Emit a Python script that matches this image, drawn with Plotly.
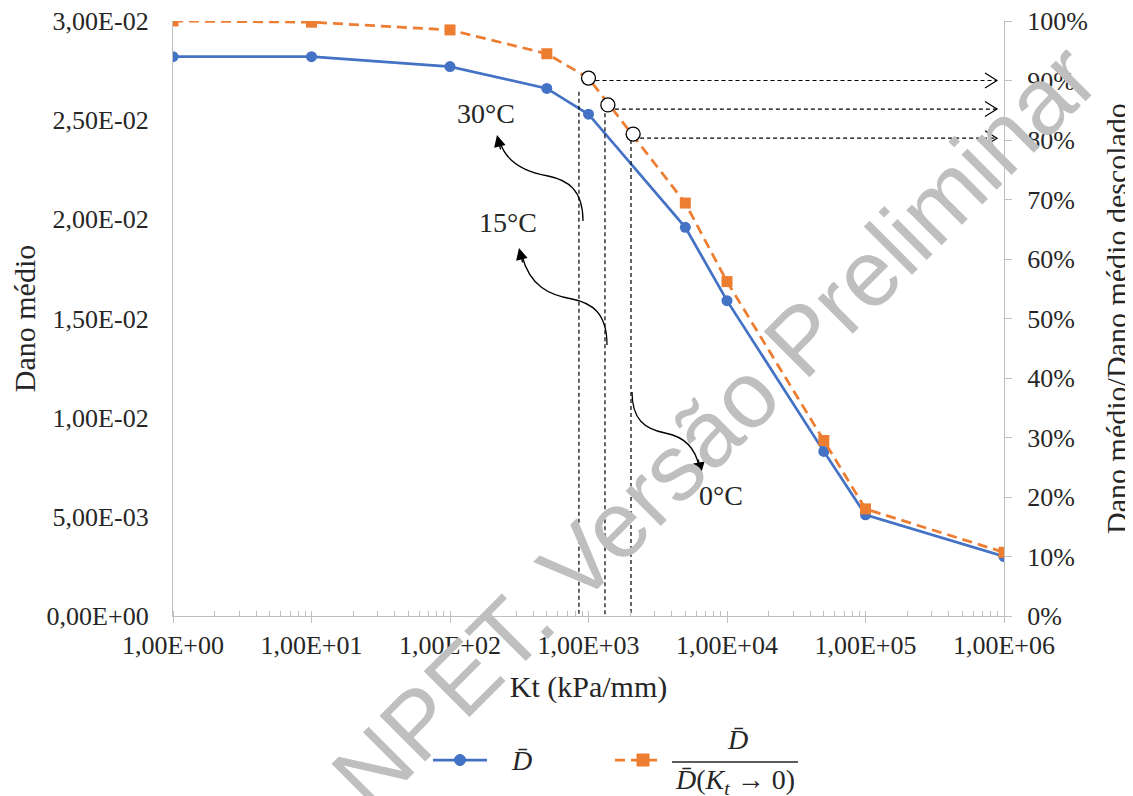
import plotly.graph_objects as go

# ---------------- data ----------------
kt = [1, 10, 100, 500, 1000, 5000, 10000, 50000, 100000, 1000000]
dano_medio = [0.0282, 0.0282, 0.0277, 0.0266, 0.0253, 0.0196, 0.0159, 0.0083, 0.0051, 0.0030]
dano_rel = [1.000, 0.998, 0.985, 0.945, 0.904, 0.694, 0.562, 0.295, 0.180, 0.107]

x_tickvals = [1, 10, 100, 1000, 10000, 100000, 1000000]
x_ticktext = ["1,00E+00", "1,00E+01", "1,00E+02", "1,00E+03", "1,00E+04", "1,00E+05", "1,00E+06"]
y_tickvals = [0, 0.005, 0.01, 0.015, 0.02, 0.025, 0.03]
y_ticktext = ["0,00E+00", "5,00E-03", "1,00E-02", "1,50E-02", "2,00E-02", "2,50E-02", "3,00E-02"]
y2_tickvals = [0, 0.1, 0.2, 0.3, 0.4, 0.5, 0.6, 0.7, 0.8, 0.9, 1.0]
y2_ticktext = ["0%", "10%", "20%", "30%", "40%", "50%", "60%", "70%", "80%", "90%", "100%"]

# temperature reading points (30, 15, 0 °C)
temp_labels = ["30°C", "15°C", "0°C"]
temp_kt = [1000, 1380, 2100]
temp_rel = [0.904, 0.859, 0.810]
arrow_rel = [0.900, 0.852, 0.803]
arrow_end_kt = 890000
vline_kt = [853, 1315, 2027]
vline_top = [0.881, 0.845, 0.800]

# ---------------- geometry (page pixels; the page body adds an 8px margin) ----------------
OFF = 8
L, R, T, B = 173, 1004, 21, 616
W, H = 1133 - OFF, 796 - OFF


def px(x):
    return (x - L) / (R - L)


def py(y):
    return (B - y) / (B - T)


SERIF = "Liberation Serif"
TXT = "#262626"
AX = "#bfbfbf"

fig = go.Figure()

# helper dashed lines (vertical) on right axis
for xk, yt in zip(vline_kt, vline_top):
    fig.add_trace(go.Scatter(x=[xk, xk], y=[yt, 0], yaxis="y2", mode="lines",
                             line=dict(color="black", width=1.2, dash="4px,3px"),
                             showlegend=False, hoverinfo="skip"))

# horizontal dashed arrows to the right axis
f = 10 ** (12 / ((R - L) / 6))
dy = 7.5 / (B - T)
for xk, ya in zip(temp_kt, arrow_rel):
    fig.add_trace(go.Scatter(x=[xk, arrow_end_kt], y=[ya, ya], yaxis="y2", mode="lines",
                             line=dict(color="black", width=1.2, dash="4px,3px"),
                             showlegend=False, hoverinfo="skip"))
    fig.add_trace(go.Scatter(x=[arrow_end_kt / f, arrow_end_kt, arrow_end_kt / f],
                             y=[ya + dy, ya, ya - dy], yaxis="y2", mode="lines",
                             line=dict(color="black", width=1.2),
                             showlegend=False, hoverinfo="skip"))

# main series
fig.add_trace(go.Scatter(x=kt, y=dano_medio, mode="lines+markers", name="D",
                         line=dict(color="#4472C4", width=2.75),
                         marker=dict(symbol="circle", size=11, color="#4472C4"),
                         showlegend=False))
fig.add_trace(go.Scatter(x=kt, y=dano_rel, yaxis="y2", mode="lines+markers", name="D/D0",
                         line=dict(color="#ED7D31", width=2.75, dash="10px,6px"),
                         marker=dict(symbol="square", size=11, color="#ED7D31"),
                         showlegend=False))

# open circles
fig.add_trace(go.Scatter(x=temp_kt, y=temp_rel, yaxis="y2", mode="markers",
                         marker=dict(symbol="circle", size=14, color="white",
                                     line=dict(color="black", width=1.3)),
                         showlegend=False, hoverinfo="skip"))

shapes = []
annotations = []


def ann(x, y, text, size, **kw):
    d = dict(x=px(x), y=py(y), xref="paper", yref="paper", text=text, showarrow=False,
             xanchor="center", yanchor="middle",
             font=dict(family=kw.pop("family", SERIF), size=size, color=kw.pop("color", TXT)))
    d.update(kw)
    annotations.append(d)


# curved arrows (pixel paths)
curves = [
    [(583, 221), (583, 190), (568, 180), (548, 176), (526, 172), (506, 162), (500, 142)],
    [(607, 345), (607, 313), (592, 303), (572, 299), (549, 295), (530, 286), (522, 256)],
    [(632, 392), (632, 420), (645, 429), (665, 433), (686, 437), (696, 450), (699, 467)],
]
tips = [((497, 135), (4, 16)), ((519, 248), (4, 16)), ((701, 474), (-3, -16))]
for p in curves:
    path = "M {:.5f},{:.5f} C {:.5f},{:.5f} {:.5f},{:.5f} {:.5f},{:.5f} C {:.5f},{:.5f} {:.5f},{:.5f} {:.5f},{:.5f}".format(
        px(p[0][0]), py(p[0][1]), px(p[1][0]), py(p[1][1]), px(p[2][0]), py(p[2][1]),
        px(p[3][0]), py(p[3][1]), px(p[4][0]), py(p[4][1]), px(p[5][0]), py(p[5][1]),
        px(p[6][0]), py(p[6][1]))
    shapes.append(dict(type="path", xref="paper", yref="paper", path=path,
                       line=dict(color="black", width=1.3)))
for (tx, ty), (ox, oy) in tips:
    annotations.append(dict(x=px(tx), y=py(ty), xref="paper", yref="paper", text="",
                            showarrow=True, arrowhead=2, arrowsize=1.8, arrowwidth=1.3,
                            arrowcolor="black", ax=ox, ay=oy))

# temperature labels
for lab, (lx, ly) in zip(temp_labels, [(486, 113), (508, 222), (721, 495)]):
    ann(lx, ly, lab, 28)

# ---------------- manual legend ----------------
shapes.append(dict(type="line", xref="paper", yref="paper", x0=px(433), x1=px(487),
                   y0=py(760), y1=py(760), line=dict(color="#4472C4", width=2.75)))
shapes.append(dict(type="circle", xref="paper", yref="paper", xsizemode="pixel", ysizemode="pixel",
                   xanchor=px(460), yanchor=py(760), x0=-5.5, x1=5.5, y0=-5.5, y1=5.5,
                   fillcolor="#4472C4", line=dict(color="#4472C4", width=1)))
shapes.append(dict(type="line", xref="paper", yref="paper", x0=px(615), x1=px(660),
                   y0=py(760), y1=py(760), line=dict(color="#ED7D31", width=2.75, dash="10px,6px")))
shapes.append(dict(type="rect", xref="paper", yref="paper", xsizemode="pixel", ysizemode="pixel",
                   xanchor=px(643), yanchor=py(760), x0=-6, x1=6, y0=-6, y1=6,
                   fillcolor="#ED7D31", line=dict(color="#ED7D31", width=1)))
ann(521, 760, "<i>D\u0304</i>", 28)
ann(737, 739, "<i>D\u0304</i>", 28)
shapes.append(dict(type="line", xref="paper", yref="paper", x0=px(672), x1=px(798),
                   y0=py(762), y1=py(762), line=dict(color=TXT, width=1.3)))
ann(735, 782, "<i>D\u0304</i>(<i>K</i><sub><i>t</i></sub> → 0)", 28)

# watermark
ann(714, 426, "NPET. Versão Preliminar", 94, textangle=-45,
    family="Liberation Sans", color="#bfbfbf")

fig.update_layout(
    width=W, height=H,
    margin=dict(l=L - OFF, r=W - (R - OFF), t=T - OFF, b=H - (B - OFF), autoexpand=False),
    paper_bgcolor="white", plot_bgcolor="white",
    font=dict(family=SERIF, color=TXT),
    showlegend=False,
    xaxis=dict(type="log", range=[0, 6], tickvals=x_tickvals, ticktext=x_ticktext,
               automargin=False, ticklabeloverflow="allow",
               showgrid=False, zeroline=False, showline=True, linecolor=AX, linewidth=1.3,
               ticks="outside", ticklen=6, tickcolor=AX, tickwidth=1.3,
               minor=dict(ticks="inside", ticklen=5, tickcolor=AX, dtick="D1", showgrid=False),
               tickfont=dict(family=SERIF, size=26, color=TXT),
               title=dict(text="Kt (kPa/mm)", standoff=16,
                          font=dict(family=SERIF, size=30, color=TXT))),
    yaxis=dict(range=[0, 0.03], tickvals=y_tickvals, ticktext=y_ticktext,
               automargin=False, ticklabeloverflow="allow",
               showgrid=False, zeroline=False, showline=True, linecolor=AX, linewidth=1.3,
               ticks="", ticklabelstandoff=18,
               tickfont=dict(family=SERIF, size=26, color=TXT),
               title=dict(text="Dano médio", standoff=15,
                          font=dict(family=SERIF, size=30, color=TXT))),
    yaxis2=dict(range=[0, 1], tickvals=y2_tickvals, ticktext=y2_ticktext,
                overlaying="y", side="right", automargin=False, ticklabeloverflow="allow",
                showgrid=False, zeroline=False, showline=True, linecolor=AX, linewidth=1.3,
                ticks="outside", ticklen=7, tickcolor=AX, tickwidth=1.3, ticklabelstandoff=10,
                tickfont=dict(family=SERIF, size=26, color=TXT),
                title=dict(text="Dano médio/Dano médio descolado", standoff=26,
                           font=dict(family=SERIF, size=30, color=TXT))),
    shapes=shapes,
    annotations=annotations,
)

fig.write_html("out.html")
